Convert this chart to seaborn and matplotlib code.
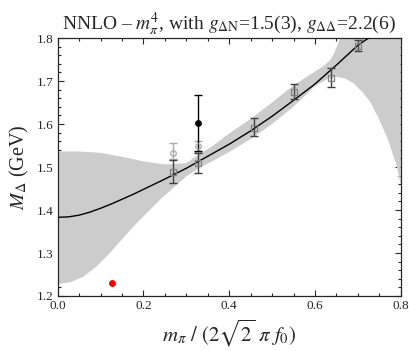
import matplotlib
matplotlib.use('Agg')
import matplotlib.pyplot as plt
import numpy as np
import pandas as pd
import seaborn as sns
from matplotlib.ticker import MultipleLocator

# central fit curve
curve_x = [0.0, 0.025, 0.05, 0.075, 0.1, 0.125, 0.15, 0.175, 0.2, 0.25, 0.3, 0.35, 0.4, 0.45, 0.5,
           0.55, 0.6, 0.65, 0.7, 0.725, 0.75]
curve_y = [1.383, 1.384, 1.388, 1.395, 1.404, 1.414, 1.425, 1.436, 1.448, 1.472, 1.497, 1.525, 1.553, 1.584, 1.618,
           1.655, 1.693, 1.737, 1.783, 1.800, 1.822]

# error band edges
upper_x = [0.0, 0.05, 0.1, 0.15, 0.2, 0.25, 0.3, 0.33, 0.36, 0.4, 0.45, 0.5, 0.55, 0.6, 0.62, 0.635, 0.645,
           0.655, 0.665, 0.68, 0.7, 0.8]
upper_y = [1.536, 1.536, 1.533, 1.524, 1.513, 1.506, 1.509, 1.530, 1.548, 1.578, 1.612, 1.650, 1.690, 1.722, 1.735, 1.748, 1.765,
           1.790, 1.820, 1.880, 2.000, 2.300]
lower_x = [0.0, 0.03, 0.06, 0.09, 0.12, 0.15, 0.18, 0.21, 0.24, 0.27, 0.3, 0.33, 0.36, 0.4, 0.45, 0.5, 0.55,
           0.6, 0.63, 0.65, 0.67, 0.69, 0.71, 0.73, 0.75, 0.77, 0.79, 0.8]
lower_y = [1.228, 1.232, 1.245, 1.268, 1.298, 1.332, 1.365, 1.395, 1.425, 1.452, 1.478, 1.498, 1.513, 1.535, 1.565, 1.600, 1.640,
           1.688, 1.705, 1.710, 1.706, 1.695, 1.675, 1.650, 1.610, 1.565, 1.505, 1.460]

# lattice points (open squares)
sq_x = [0.270, 0.328, 0.458, 0.551, 0.637, 0.701]
sq_y = [1.489, 1.509, 1.590, 1.674, 1.706, 1.782]
sq_lo = [1.463, 1.487, 1.572, 1.658, 1.687, 1.770]
sq_hi = [1.516, 1.532, 1.613, 1.693, 1.731, 1.795]

# open circles (light grey)
ci_x = [0.270, 0.328]
ci_y = [1.532, 1.549]
ci_lo = [1.518, 1.536]
ci_hi = [1.555, 1.561]

# filled black point
bk_x = [0.328]
bk_y = [1.602]
bk_lo = [1.537]
bk_hi = [1.667]

# physical point
phys_x = [0.126]
phys_y = [1.230]

sns.set_style('ticks')
plt.rcParams['font.family'] = ['Liberation Serif', 'DejaVu Serif']
plt.rcParams['mathtext.fontset'] = 'stix'

fig = plt.figure(figsize=(4.1, 3.51), dpi=100)
ax = fig.add_axes([0.1407, 0.1567, 0.8366, 0.735])

# band: evaluate both edges on common grid from the read points
grid = np.array(sorted(set(upper_x) | set(lower_x)))
ax.fill_between(grid, np.interp(grid, lower_x, lower_y), np.interp(grid, upper_x, upper_y),
                color='#cccccc', lw=0, zorder=1)

df_curve = pd.DataFrame({'x': curve_x, 'y': curve_y})
sns.lineplot(data=df_curve, x='x', y='y', color='black', lw=1, ax=ax, zorder=3)


def draw_points(xs, ys, lo, hi, marker, mfc, mec, ecol, ms):
    ys = np.array(ys)
    err = [ys - np.array(lo), np.array(hi) - ys]
    ax.errorbar(xs, ys, yerr=err, fmt='none', ecolor=ecol, elinewidth=1, capsize=2.6, capthick=1, zorder=4)
    ax.plot(xs, ys, ls='none', marker=marker, mfc=mfc, mec=mec, ms=ms, mew=0.9, zorder=5)


draw_points(ci_x, ci_y, ci_lo, ci_hi, 'o', 'none', '#aaaaaa', '#aaaaaa', 4)
draw_points(sq_x, sq_y, sq_lo, sq_hi, 's', 'none', '#808080', '#404040', 4.2)
draw_points(bk_x, bk_y, bk_lo, bk_hi, 'o', 'black', 'black', 'black', 4)
ax.plot(phys_x, phys_y, ls='none', marker='o', color='red', ms=4, zorder=5)

ax.set_xlim(0, 0.8)
ax.set_ylim(1.2, 1.8)
ax.xaxis.set_major_locator(MultipleLocator(0.2))
ax.xaxis.set_minor_locator(MultipleLocator(0.05))
ax.yaxis.set_major_locator(MultipleLocator(0.1))
ax.yaxis.set_minor_locator(MultipleLocator(0.02))
ax.set_xticklabels([f'{v:.1f}' for v in ax.get_xticks()])
ax.set_yticklabels([f'{v:.1f}' for v in ax.get_yticks()])
ax.tick_params(which='both', direction='in', top=True, right=True, labelsize=9.5, width=0.8)
ax.tick_params(axis='x', pad=3)
ax.tick_params(axis='y', pad=3)
ax.tick_params(which='major', length=4)
ax.tick_params(which='minor', length=2)
for s in ax.spines.values():
    s.set_linewidth(0.9)
    s.set_visible(True)

ax.set_xlabel(r'$m_\pi\ /\ (2\sqrt{2}\ \pi\ f_0)$', fontsize=15, labelpad=4)
ax.set_ylabel(r'$M_\Delta$ (GeV)', fontsize=14.5, labelpad=4)
ax.set_title(r'NNLO – $m_\pi^4$, with $g_{\Delta\mathrm{N}}$=1.5(3), $g_{\Delta\Delta}$=2.2(6)',
             fontsize=14, pad=5)

fig.savefig('out.png', dpi=100)
